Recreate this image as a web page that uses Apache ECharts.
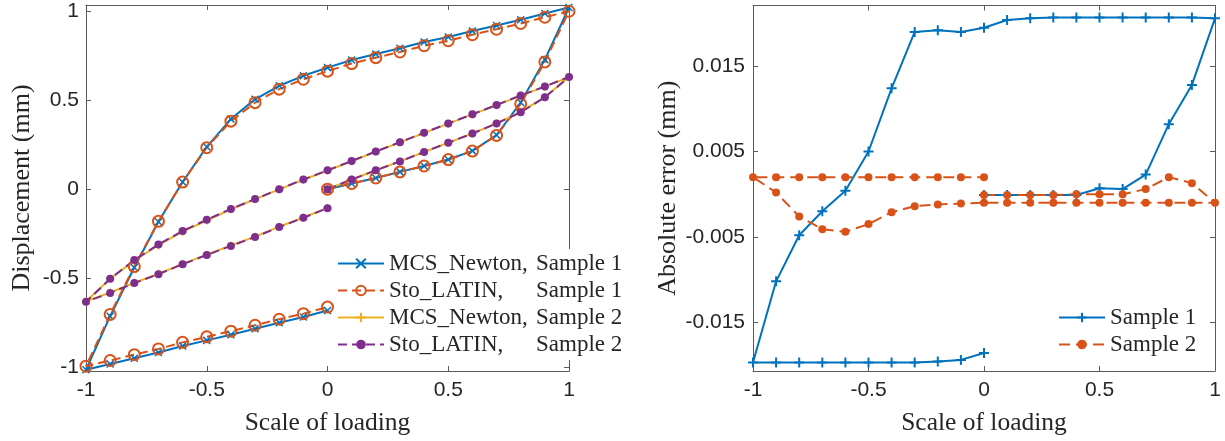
<!DOCTYPE html>
<html>
<head>
<meta charset="utf-8">
<script src="https://cdn.jsdelivr.net/npm/echarts@6/dist/echarts.min.js"></script>
<style>
html,body{margin:0;padding:0;background:#fff;}
#c{width:1225px;height:441px;}
</style>
</head>
<body>
<div id="c"></div>
<script>
// Loading path: 0 -> 1 -> -1 -> 0
const loadScale = [0,0.1,0.2,0.3,0.4,0.5,0.6,0.7,0.8,0.9,1,
  0.9,0.8,0.7,0.6,0.5,0.4,0.3,0.2,0.1,0,-0.1,-0.2,-0.3,-0.4,-0.5,-0.6,-0.7,-0.8,-0.9,-1,
  -0.9,-0.8,-0.7,-0.6,-0.5,-0.4,-0.3,-0.2,-0.1,0];

const mcsNewtonS1 = [0,0.032,0.063,0.097,0.13,0.167,0.215,0.304,0.487,0.728,1.021,
  0.987,0.952,0.920,0.889,0.855,0.827,0.792,0.760,0.726,0.683,0.637,0.581,0.505,0.394,0.238,0.040,-0.183,-0.440,-0.714,-1.015,
  -0.983,-0.950,-0.918,-0.881,-0.850,-0.818,-0.785,-0.751,-0.719,-0.682];

const stoLatinS1 = [0,0.032,0.063,0.097,0.13,0.166,0.214,0.302,0.479,0.715,1.0,
  0.966,0.931,0.899,0.868,0.834,0.806,0.771,0.739,0.706,0.663,0.618,0.562,0.486,0.382,0.233,0.040,-0.181,-0.435,-0.704,-0.995,
  -0.963,-0.930,-0.898,-0.861,-0.830,-0.798,-0.765,-0.731,-0.700,-0.663];

const mcsNewtonS2 = [0,0.054,0.106,0.156,0.209,0.261,0.313,0.370,0.434,0.517,0.630,
  0.576,0.526,0.472,0.420,0.368,0.316,0.263,0.211,0.157,0.105,0.053,-0.001,-0.057,-0.113,-0.176,-0.239,-0.315,-0.401,-0.504,-0.631,
  -0.581,-0.526,-0.476,-0.420,-0.368,-0.317,-0.267,-0.211,-0.159,-0.105];

const stoLatinS2 = [0,0.054,0.106,0.156,0.209,0.261,0.313,0.369,0.432,0.516,0.631,
  0.577,0.527,0.473,0.421,0.369,0.317,0.264,0.212,0.158,0.106,0.054,0.0,-0.056,-0.111,-0.172,-0.235,-0.311,-0.398,-0.504,-0.633,
  -0.583,-0.528,-0.478,-0.422,-0.370,-0.319,-0.269,-0.213,-0.161,-0.107];

const errS1 = [-0.0001,-0.0001,-0.0001,-0.0001,-0.0001,0.0007,0.0006,0.0023,0.0082,0.0128,0.0206,
  0.0207,0.0207,0.0207,0.0207,0.0207,0.0207,0.0207,0.0206,0.0204,0.0195,0.0190,0.0192,0.0190,0.0124,0.0050,0.0004,-0.0020,-0.0048,-0.0102,-0.0197,
  -0.0197,-0.0197,-0.0197,-0.0197,-0.0197,-0.0197,-0.0197,-0.0196,-0.0194,-0.0186];

const errS2 = [-0.0001,-0.0001,-0.0001,-0.0001,0.0000,0.0000,0.0000,0.0006,0.0020,0.0013,-0.0010,
  -0.0010,-0.0010,-0.0010,-0.0010,-0.0010,-0.0010,-0.0010,-0.0010,-0.0010,-0.0010,-0.0011,-0.0012,-0.0014,-0.0021,-0.0035,-0.0044,-0.0041,-0.0026,0.0002,0.0020,
  0.0020,0.0020,0.0020,0.0020,0.0020,0.0020,0.0020,0.0020,0.0020,0.0020];

const xTicks = [-1,-0.5,0,0.5,1];
const yTicksLeft = [-1,-0.5,0,0.5,1];
const yTicksRight = [-0.015,-0.005,0.005,0.015];

const leftNames = ['MCS_Newton, Sample 1','Sto_LATIN, Sample 1','MCS_Newton, Sample 2','Sto_LATIN, Sample 2'];
const rightNames = ['Sample 1','Sample 2'];

const C_BLUE='#0072BD', C_ORANGE='#D95319', C_YELLOW='#EDB120', C_PURPLE='#7E2F8E';
const AXIS_COLOR='#5a5a5a', TEXT_COLOR='#262626';
const SANS='"Liberation Sans", Arial, sans-serif';
const SERIF='"Liberation Serif", "Times New Roman", serif';

const pairs = (xs, ys) => xs.map((x,i)=>[x, ys[i]]);
const SYM_X = 'path://M0,0L10,10M10,0L0,10';
const SYM_PLUS = 'path://M5,0L5,10M0,5L10,5';

function axisBase(extra){
  return Object.assign({
    type:'value',
    axisLine:{show:true, onZero:false, lineStyle:{color:AXIS_COLOR, width:1}},
    splitLine:{show:false},
  }, extra);
}
function mainX(grid, name){
  return axisBase({gridIndex:grid, min:-1, max:1, position:'bottom',
    axisTick:{inside:true, length:5, customValues:xTicks, lineStyle:{color:AXIS_COLOR}},
    axisLabel:{customValues:xTicks, fontFamily:SANS, fontSize:21, color:TEXT_COLOR, margin:9},
    name:name, nameLocation:'middle', nameGap:39,
    nameTextStyle:{fontFamily:SERIF, fontSize:25.5, color:TEXT_COLOR}});
}
function mirrorX(grid){
  return axisBase({gridIndex:grid, min:-1, max:1, position:'top',
    axisTick:{inside:true, length:5, customValues:xTicks, lineStyle:{color:AXIS_COLOR}},
    axisLabel:{show:false}});
}

const legendRich = {
  a:{fontFamily:SERIF, fontSize:23, color:TEXT_COLOR, width:147},
  b:{fontFamily:SERIF, fontSize:23, color:TEXT_COLOR}
};

const option = {
  animation:false,
  backgroundColor:'#fff',
  grid:[
    {left:86, top:5, width:483, height:367},
    {left:753, top:5.5, width:462, height:365.5}
  ],
  xAxis:[
    mainX(0,'Scale of loading'), mirrorX(0),
    mainX(1,'Scale of loading'), mirrorX(1)
  ],
  yAxis:[
    axisBase({gridIndex:0, min:-1.022, max:1.035, position:'left',
      axisTick:{inside:true, length:5, customValues:yTicksLeft, lineStyle:{color:AXIS_COLOR}},
      axisLabel:{customValues:yTicksLeft, fontFamily:SANS, fontSize:21, color:TEXT_COLOR, margin:7},
      name:'Displacement (mm)', nameLocation:'middle', nameGap:51,
      nameTextStyle:{fontFamily:SERIF, fontSize:26, color:TEXT_COLOR}}),
    axisBase({gridIndex:0, min:-1.022, max:1.035, position:'right',
      axisTick:{inside:true, length:5, customValues:yTicksLeft, lineStyle:{color:AXIS_COLOR}},
      axisLabel:{show:false}}),
    axisBase({gridIndex:1, min:-0.0207, max:0.0221, position:'left',
      axisTick:{inside:true, length:5, customValues:yTicksRight, lineStyle:{color:AXIS_COLOR}},
      axisLabel:{customValues:yTicksRight, fontFamily:SANS, fontSize:21, color:TEXT_COLOR, margin:8},
      name:'Absolute error (mm)', nameLocation:'middle', nameGap:67,
      nameTextStyle:{fontFamily:SERIF, fontSize:26, color:TEXT_COLOR}}),
    axisBase({gridIndex:1, min:-0.0207, max:0.0221, position:'right',
      axisTick:{inside:true, length:5, customValues:yTicksRight, lineStyle:{color:AXIS_COLOR}},
      axisLabel:{show:false}})
  ],
  legend:[
    {
      data:leftNames, orient:'vertical', left:335, top:249,
      itemWidth:46, itemHeight:12, itemGap:4,
      backgroundColor:'#fff', padding:[3,4,4,2],
      textStyle:{fontFamily:SERIF, fontSize:23, color:TEXT_COLOR, rich:legendRich},
      formatter:function(name){ const p=name.split(', '); return '{a|'+p[0]+',}{b|'+p[1]+'}'; }
    },
    {
      data:rightNames, orient:'vertical', left:1056, top:304,
      itemWidth:46, itemHeight:12, itemGap:4,
      backgroundColor:'#fff', padding:[2,6,2,2],
      textStyle:{fontFamily:SERIF, fontSize:23, color:TEXT_COLOR}
    }
  ],
  series:[
    {name:leftNames[0], type:'line', xAxisIndex:0, yAxisIndex:0, clip:false,
      data:pairs(loadScale, mcsNewtonS1), symbol:SYM_X, symbolSize:7,
      lineStyle:{color:C_BLUE, width:2},
      itemStyle:{color:C_BLUE, borderColor:C_BLUE, borderWidth:1.5}},
    {name:leftNames[1], type:'line', xAxisIndex:0, yAxisIndex:0, clip:false,
      data:pairs(loadScale, stoLatinS1), symbol:'circle', symbolSize:11,
      lineStyle:{color:C_ORANGE, width:2, type:[9,5]},
      itemStyle:{color:'rgba(0,0,0,0)', borderColor:C_ORANGE, borderWidth:2}},
    {name:leftNames[2], type:'line', xAxisIndex:0, yAxisIndex:0, clip:false,
      data:pairs(loadScale, mcsNewtonS2), symbol:SYM_PLUS, symbolSize:8,
      lineStyle:{color:C_YELLOW, width:2},
      itemStyle:{color:C_YELLOW, borderColor:C_YELLOW, borderWidth:1.5}},
    {name:leftNames[3], type:'line', xAxisIndex:0, yAxisIndex:0, clip:false,
      data:pairs(loadScale, stoLatinS2), symbol:'circle', symbolSize:8,
      lineStyle:{color:C_PURPLE, width:2, type:[9,5]},
      itemStyle:{color:C_PURPLE}},
    {name:rightNames[0], type:'line', xAxisIndex:2, yAxisIndex:2, clip:false,
      data:pairs(loadScale, errS1), symbol:SYM_PLUS, symbolSize:10,
      lineStyle:{color:C_BLUE, width:2},
      itemStyle:{color:C_BLUE, borderColor:C_BLUE, borderWidth:2}},
    {name:rightNames[1], type:'line', xAxisIndex:2, yAxisIndex:2, clip:false,
      data:pairs(loadScale, errS2), symbol:'circle', symbolSize:8,
      lineStyle:{color:C_ORANGE, width:2, type:[11,6]},
      itemStyle:{color:C_ORANGE}}
  ]
};

const chart = echarts.init(document.getElementById('c'), null, {renderer:'canvas'});
chart.setOption(option);
</script>
</body>
</html>
